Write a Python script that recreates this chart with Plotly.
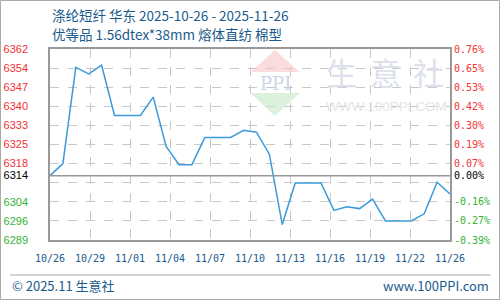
import pandas as pd
import plotly.graph_objects as go

# ---- data ----
dates = [d.strftime("%Y-%m-%d") for d in pd.date_range("2025-10-26", "2025-11-26", freq="D")]
prices = [6313.6, 6318.2, 6355.0, 6352.5, 6355.8, 6336.6, 6336.6, 6336.6, 6343.6, 6324.8,
          6317.8, 6317.8, 6328.2, 6328.2, 6328.2, 6330.9, 6330.2, 6321.8, 6294.9, 6310.8,
          6310.8, 6310.8, 6300.3, 6301.7, 6301.0, 6304.6, 6296.3, 6296.3, 6296.3, 6299.0,
          6311.1, 6306.6]
x_labels = ["10/26", "10/29", "11/01", "11/04", "11/07", "11/10", "11/13", "11/16", "11/19", "11/22", "11/26"]
y_min, y_max = 6289, 6362
left_labels = ["6289", "6296", "6304", "", "6318", "6325", "6333", "6340", "6347", "6354", "6362"]
right_labels = ["-0.39%", "-0.27%", "-0.16%", "", "0.07%", "0.19%", "0.30%", "0.42%", "0.53%", "0.65%", "0.76%"]
base_label_left = "6314"
base_label_right = "0.00%"

title1 = "涤纶短纤 华东 2025-10-26 - 2025-11-26"
title2 = "优等品 1.56dtex*38mm 熔体直纺 棉型"
footer_left = "© 2025.11 生意社"
footer_right = "www.100PPI.com"

# ---- styles ----
RED = "#f03333"
GREEN = "#33b333"
BLUE_TXT = "#1a5b8c"
LINE = "#3b9ad9"
GRID = "#c8c8c8"
BORDER = "#999999"

base = prices[0]
n = len(x_labels) - 1
grid_vals = [y_min + (y_max - y_min) * k / 10 for k in range(11)]


def col(v):
    if abs(v - base) < 1e-9:
        return "#000000"
    return RED if v > base else GREEN


def span(t, v):
    return f"<span style='color:{col(v)}'>{t}</span>" if t else " "


ytickvals = grid_vals + [base]
ylt = [span(t, v) for t, v in zip(left_labels, grid_vals)] + [span(base_label_left, base)]
yrt = [span(t, v) for t, v in zip(right_labels, grid_vals)] + [span(base_label_right, base)]

t0 = pd.Timestamp(dates[0])
t1 = pd.Timestamp(dates[-1])
xtickvals = [(t0 + (t1 - t0) * k / n).strftime("%Y-%m-%d %H:%M:%S") for k in range(n + 1)]

fig = go.Figure()
fig.add_trace(go.Scatter(x=dates, y=prices, mode="lines", line=dict(color=LINE, width=1.5)))
# empty trace to register the right-hand percentage axis
fig.add_trace(go.Scatter(x=[], y=[], yaxis="y2", mode="lines"))

L, R, T, B = 50, 50, 49, 60
W, H = 500, 300
PW, PH = W - L - R, H - T - B


def px(x):
    return (x - L) / PW


def py(y):
    return (H - B - y) / PH


shapes = [
    # base line
    dict(type="line", xref="paper", yref="y", x0=0, x1=1, y0=base, y1=base,
         line=dict(color=BORDER, width=1.5)),
    # footer separator
    dict(type="line", xref="paper", yref="paper", x0=px(10), x1=px(491), y0=py(275), y1=py(275),
         line=dict(color="#aaaaaa", width=1)),
    # outer border
    dict(type="rect", xref="paper", yref="paper", x0=px(0.5), x1=px(499.5), y0=py(299.5), y1=py(0.5),
         line=dict(color="#aaaaaa", width=1)),
    # watermark triangles (translucent so the grid shows through)
    dict(type="path", xref="paper", yref="paper", opacity=0.6,
         path=f"M {px(275)} {py(50)} L {px(299.5)} {py(72)} L {px(251)} {py(72)} Z",
         fillcolor="#f8c4c4", line=dict(width=0)),
    dict(type="path", xref="paper", yref="paper", opacity=0.6,
         path=f"M {px(250.5)} {py(93)} L {px(300)} {py(93)} L {px(275)} {py(116)} Z",
         fillcolor="#c4e8c4", line=dict(width=0)),
]

annotations = [
    dict(text=title1, x=px(50), y=py(14.5), xref="paper", yref="paper", xanchor="left", yanchor="middle",
         showarrow=False, font=dict(family="Noto Sans CJK SC", size=13.5, color=BLUE_TXT)),
    dict(text=title2, x=px(50), y=py(33.5), xref="paper", yref="paper", xanchor="left", yanchor="middle",
         showarrow=False, font=dict(family="Noto Sans CJK SC", size=13.5, color=BLUE_TXT)),
    dict(text=footer_left, x=px(10), y=py(285), xref="paper", yref="paper", xanchor="left", yanchor="middle",
         showarrow=False, font=dict(family="Noto Sans CJK SC", size=13, color=BLUE_TXT)),
    dict(text=footer_right, x=px(491), y=py(285), xref="paper", yref="paper", xanchor="right", yanchor="middle",
         showarrow=False, font=dict(family="Noto Sans CJK SC", size=13, color=BLUE_TXT)),
    dict(text="PPI", x=px(275), y=py(83), xref="paper", yref="paper", xanchor="center", yanchor="middle",
         showarrow=False, font=dict(family="DejaVu Serif", size=18, color="#ccd5e8")),
    dict(text="WWW.100PPI.COM", x=px(386.5), y=py(106.5), xref="paper", yref="paper", xanchor="center",
         yanchor="middle", showarrow=False, font=dict(family="Liberation Sans", size=13.5, color="#e4e4e4")),
]
for ch, cx in zip("生意社", [341.5, 385, 428.5]):
    annotations.append(dict(text=ch, x=px(cx), y=py(71.5), xref="paper", yref="paper", xanchor="center",
                            yanchor="middle", showarrow=False,
                            font=dict(family="Noto Sans CJK SC", size=31, color="#dde1eb")))

fig.update_layout(
    width=W, height=H, margin=dict(l=L, r=R, t=T, b=B),
    plot_bgcolor="white",
    showlegend=False,
    xaxis=dict(type="date", range=[dates[0], dates[-1]], tickmode="array", tickvals=xtickvals,
               ticktext=x_labels, showgrid=True, gridcolor=GRID, griddash="dash", gridwidth=1,
               showline=True, mirror=True, linecolor=BORDER, linewidth=1.5, automargin=False,
               ticks="outside", ticklen=8, tickcolor="rgba(0,0,0,0)", zeroline=False,
               tickfont=dict(family="DejaVu Sans Mono", size=10, color=BLUE_TXT)),
    yaxis=dict(range=[y_min, y_max], tickmode="array", tickvals=ytickvals, ticktext=ylt,
               showgrid=True, gridcolor=GRID, griddash="dash", gridwidth=1, automargin=False,
               showline=True, mirror=True, linecolor=BORDER, linewidth=1.5,
               ticks="outside", ticklen=18, tickcolor="rgba(0,0,0,0)", zeroline=False,
               tickfont=dict(family="Liberation Sans", size=11, color="#000")),
    yaxis2=dict(range=[y_min, y_max], overlaying="y", side="right", anchor="x", tickmode="array",
                tickvals=ytickvals, ticktext=yrt, showgrid=False, zeroline=False, automargin=False,
                ticks="outside", ticklen=1, tickcolor="rgba(0,0,0,0)", showline=False,
                tickfont=dict(family="DejaVu Sans Mono", size=10, color="#000")),
    shapes=shapes, annotations=annotations,
)

fig.write_html("out.html")
